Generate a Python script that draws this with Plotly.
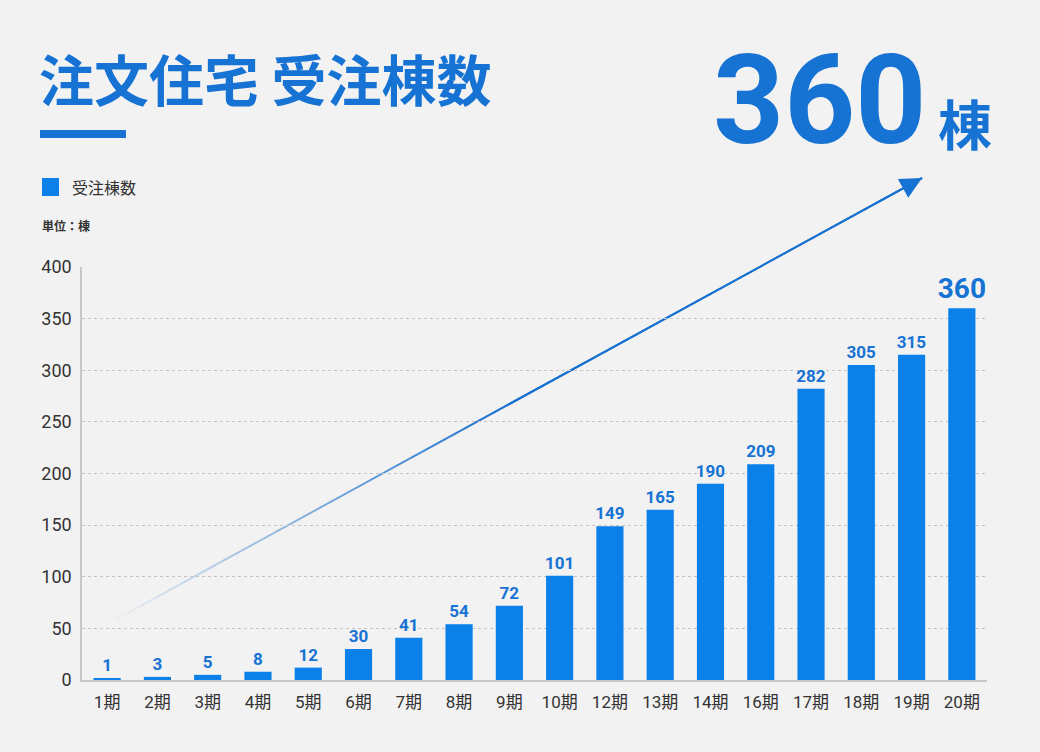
import plotly.graph_objects as go

# データ
periods = ["1期", "2期", "3期", "4期", "5期", "6期", "7期", "8期", "9期", "10期",
           "12期", "13期", "14期", "16期", "17期", "18期", "19期", "20期"]
orders = [1, 3, 5, 8, 12, 30, 41, 54, 72, 101, 149, 165, 190, 209, 282, 305, 315, 360]
y_ticks = [0, 50, 100, 150, 200, 250, 300, 350, 400]

BLUE = "#1673d4"
BAR = "#0a80e8"
BG = "#f2f2f2"
FONT = "Roboto, Noto Sans CJK JP, sans-serif"
JP = "Noto Sans CJK JP, sans-serif"

W, H = 1040, 752
L, R, T, B = 82, 987, 267, 680  # plot area in px


def px(x, y):
    return (x - L) / (R - L), (B - y) / (B - T)


last = len(orders) - 1
labels = [f"<b>{v}</b>" for v in orders]
sizes = [17] * len(orders)
sizes[last] = 28

fig = go.Figure(go.Bar(
    x=periods,
    y=orders,
    marker=dict(color=BAR, line=dict(width=0)),
    width=0.54,
    text=labels,
    textposition="outside",
    constraintext="none",
    textfont=dict(color=BLUE, size=sizes, family=FONT),
    cliponaxis=False,
    showlegend=False,
))

# 矢印: 重ねた半透明の線でフェードインを表現
x0, y0 = 115, 620
x1, y1 = 922, 178
n = 30
fade = 0.5
shapes = []
for k in range(1, n + 1):
    a = (k - 1) / n * fade
    sx, sy = px(x0 + (x1 - x0) * a, y0 + (y1 - y0) * a)
    ex, ey = px(x1, y1)
    shapes.append(dict(type="line", xref="paper", yref="paper",
                       x0=sx, y0=sy, x1=ex, y1=ey,
                       line=dict(color=BLUE, width=1.6),
                       opacity=1 / (n - k + 1), layer="below"))

# タイトル下の線
shapes.append(dict(type="rect", xref="paper", yref="paper",
                   x0=px(40, 0)[0], x1=px(126, 0)[0],
                   y0=px(0, 130)[1], y1=px(0, 138)[1],
                   fillcolor=BLUE, line=dict(width=0)))
# 凡例の四角
shapes.append(dict(type="rect", xref="paper", yref="paper",
                   x0=px(42, 0)[0], x1=px(59, 0)[0],
                   y0=px(0, 178)[1], y1=px(0, 196)[1],
                   fillcolor=BAR, line=dict(width=0)))

hx, hy = px(x1, y1)
annotations = [
    dict(x=hx, y=hy, xref="paper", yref="paper",
         ax=(x0 - x1) * 0.06, ay=(y0 - y1) * 0.06,
         showarrow=True, arrowhead=2, arrowsize=2.4, arrowwidth=1.8,
         arrowcolor=BLUE, text="", standoff=0),
    dict(text="<b>注文住宅 受注棟数</b>", x=px(37, 0)[0], y=px(0, 77)[1],
         xref="paper", yref="paper", xanchor="left", yanchor="middle",
         showarrow=False, font=dict(size=55, color=BLUE, family=JP)),
    dict(text="<b>360</b>", x=px(928, 0)[0], y=px(0, 100)[1],
         xref="paper", yref="paper", xanchor="right", yanchor="middle",
         showarrow=False, font=dict(size=124, color=BLUE, family=FONT)),
    dict(text="<b>棟</b>", x=px(936, 0)[0], y=px(0, 122)[1],
         xref="paper", yref="paper", xanchor="left", yanchor="middle",
         showarrow=False, font=dict(size=54, color=BLUE, family=JP)),
    dict(text="受注棟数", x=px(70, 0)[0], y=px(0, 187)[1],
         xref="paper", yref="paper", xanchor="left", yanchor="middle",
         showarrow=False, font=dict(size=16, color="#333333", family=JP)),
    dict(text="<b>単位：棟</b>", x=px(40, 0)[0], y=px(0, 225)[1],
         xref="paper", yref="paper", xanchor="left", yanchor="middle",
         showarrow=False, font=dict(size=12, color="#333333", family=JP)),
]

fig.update_layout(
    width=W, height=H,
    margin=dict(l=L, r=W - R, t=T, b=H - B, pad=0),
    paper_bgcolor=BG, plot_bgcolor=BG,
    shapes=shapes,
    annotations=annotations,
    xaxis=dict(
        showgrid=False, showline=True, linecolor="#c8c8c8", linewidth=1.5,
        ticks="", ticklabelstandoff=6,
        tickfont=dict(size=17, color="#333333", family=FONT),
        range=[-0.5, len(periods) - 0.5],
    ),
    yaxis=dict(
        range=[0, 400], tickvals=y_ticks,
        showgrid=True, gridcolor="#c4c4c4", griddash="dot", gridwidth=1,
        showline=True, linecolor="#c8c8c8", linewidth=1.5,
        zeroline=False, ticks="", ticklabelstandoff=5,
        tickfont=dict(size=18, color="#333333", family=FONT),
    ),
)

fig.write_html(
    "out.html",
    config={"displayModeBar": False},
    post_script="document.body.style.margin='0';document.body.style.background='#f2f2f2';",
)
